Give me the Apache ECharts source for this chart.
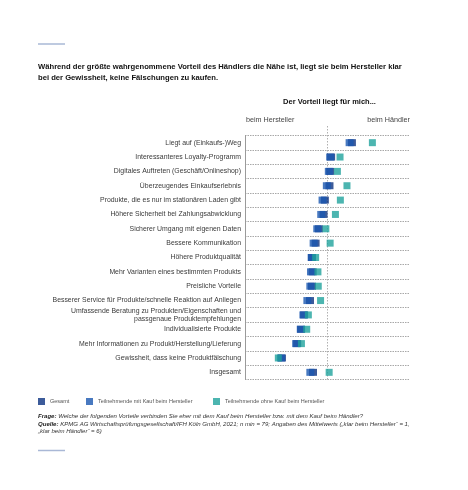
<!DOCTYPE html>
<html>
<head>
<meta charset="utf-8">
<script src="https://cdn.jsdelivr.net/npm/echarts@6/dist/echarts.min.js"></script>
<style>
html,body{margin:0;padding:0;background:#fff;}
#c{width:468px;height:490px;}
</style>
</head>
<body>
<div id="c"></div>
<script>
const categories = [
  'Liegt auf (Einkaufs-)Weg',
  'Interessanteres Loyalty-Programm',
  'Digitales Auftreten (Geschäft/Onlineshop)',
  'Überzeugendes Einkaufserlebnis',
  'Produkte, die es nur im stationären Laden gibt',
  'Höhere Sicherheit bei Zahlungsabwicklung',
  'Sicherer Umgang mit eigenen Daten',
  'Bessere Kommunikation',
  'Höhere Produktqualität',
  'Mehr Varianten eines bestimmten Produkts',
  'Preisliche Vorteile',
  'Besserer Service für Produkte/schnelle Reaktion auf Anliegen',
  'Umfassende Beratung zu Produkten/Eigenschaften und\npassgenaue Produktempfehlungen',
  'Individualisierte Produkte',
  'Mehr Informationen zu Produkt/Herstellung/Lieferung',
  'Gewissheit, dass keine Produktfälschung',
  'Insgesamt'
];
const gesamt =    [4.24, 3.61, 3.58, 3.56, 3.42, 3.38, 3.24, 3.14, 3.03, 3.05, 3.03, 2.97, 2.79, 2.70, 2.58, 2.12, 3.06];
const mitKauf =   [4.17, 3.58, 3.54, 3.48, 3.35, 3.31, 3.19, 3.08, 3.02, 3.00, 2.98, 2.89, 2.77, 2.69, 2.55, 2.09, 2.98];
const ohneKauf =  [4.86, 3.88, 3.80, 4.09, 3.89, 3.74, 3.45, 3.58, 3.14, 3.21, 3.22, 3.29, 2.92, 2.87, 2.71, 2.01, 3.55];
const seriesNames = ['Gesamt', 'Teilnehmende mit Kauf beim Hersteller', 'Teilnehmende ohne Kauf beim Hersteller'];
const scaleMin = 1, scaleMax = 6, scaleMid = 3.5;
const endLabels = ['beim Hersteller', 'beim Händler'];

const colors = ['#0b3281', '#1a58b0', '#1fa39c'];
const chart = echarts.init(document.getElementById('c'), null, {renderer: 'canvas'});
const FONT = 'Liberation Sans, Arial, sans-serif';

function pairs(arr){ return arr.map((v,i)=>[v, categories[i]]); }

const legendLefts = [33, 81, 208];
const option = {
  backgroundColor: '#fff',
  animation: false,
  grid: {left: 245, right: 58, top: 135.5, height: 244, containLabel: false},
  xAxis: {
    type: 'value', min: scaleMin, max: scaleMax,
    axisLabel: {show: false}, axisLine: {show: false}, axisTick: {show: false}, splitLine: {show: false}
  },
  yAxis: {
    type: 'category', data: categories, inverse: true,
    axisLine: {show: true, lineStyle: {color: '#9a9a9a', width: 1}},
    axisTick: {show: false},
    splitLine: {show: true, lineStyle: {color: '#a8a8a8', type: [1.5, 1], width: 1}},
    axisLabel: {fontSize: 6.9, color: '#3a3a3a', margin: 4, fontFamily: FONT, lineHeight: 7.6}
  },
  legend: seriesNames.map((n, i) => ({
    left: legendLefts[i], top: 393, itemWidth: 7, itemHeight: 7,
    icon: 'rect', selectedMode: false,
    textStyle: {fontSize: 5.5, color: '#555', fontFamily: FONT},
    data: [n]
  })),
  series: [
    {name: seriesNames[0], type: 'scatter', symbol: 'rect', symbolSize: [8, 7], data: pairs(gesamt), itemStyle: {color: colors[0]}, z: 2},
    {name: seriesNames[1], type: 'scatter', symbol: 'rect', symbolSize: [8, 7], data: pairs(mitKauf), itemStyle: {color: colors[1]}, z: 3},
    {name: seriesNames[2], type: 'scatter', symbol: 'rect', symbolSize: [7, 7], data: pairs(ohneKauf), itemStyle: {color: colors[2]}, z: 4}
  ]
};
chart.setOption(option);

const midX = chart.convertToPixel({xAxisIndex: 0}, scaleMid);
const leftX = chart.convertToPixel({xAxisIndex: 0}, scaleMin);
const rightX = chart.convertToPixel({xAxisIndex: 0}, scaleMax);

chart.setOption({
  graphic: [
    {type: 'line', shape: {x1: 38, y1: 44, x2: 65, y2: 44}, style: {stroke: '#a9b8d6', lineWidth: 1.5}},
    {type: 'line', shape: {x1: 38, y1: 450.5, x2: 65, y2: 450.5}, style: {stroke: '#a9b8d6', lineWidth: 1.5}},
    {type: 'text', left: 38, top: 61, style: {text: 'Während der größte wahrgenommene Vorteil des Händlers die Nähe ist, liegt sie beim Hersteller klar\nbei der Gewissheit, keine Fälschungen zu kaufen.', font: 'bold 7.65px ' + FONT, fill: '#111', lineHeight: 11}},
    {type: 'text', x: midX + 2, y: 102, style: {text: 'Der Vorteil liegt für mich...', font: 'bold 7.5px ' + FONT, fill: '#111', align: 'center', verticalAlign: 'middle'}},
    {type: 'text', x: leftX + 1, y: 120, style: {text: endLabels[0], font: '7.2px ' + FONT, fill: '#444', align: 'left', verticalAlign: 'middle'}},
    {type: 'text', x: rightX, y: 120, style: {text: endLabels[1], font: '7.2px ' + FONT, fill: '#444', align: 'right', verticalAlign: 'middle'}},
    {type: 'line', shape: {x1: midX, y1: 126, x2: midX, y2: 379.5}, style: {stroke: '#b0b0b0', lineWidth: 1, lineDash: [1.5, 1.5]}, z: 1},
    {type: 'text', left: 38, top: 413, style: {
      text: '{b|Frage:} Welche der folgenden Vorteile verbinden Sie eher mit dem Kauf beim Hersteller bzw. mit dem Kauf beim Händler?\n{b|Quelle:} KPMG AG Wirtschaftsprüfungsgesellschaft/IFH Köln GmbH, 2021; n min = 79; Angaben des Mittelwerts („klar beim Hersteller“ = 1,\n„klar beim Händler“ = 6)',
      font: 'italic 6.05px ' + FONT, fill: '#333', lineHeight: 7.4,
      rich: {b: {font: 'italic bold 6.05px ' + FONT, fill: '#222'}}
    }}
  ]
});
</script>
</body>
</html>
